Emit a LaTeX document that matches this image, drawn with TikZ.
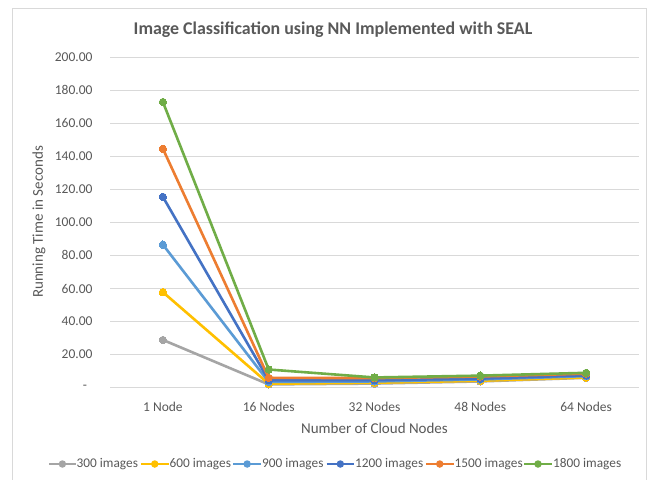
\documentclass[tikz,border=0pt]{standalone}
\usepackage{fontspec}
\setmainfont{Carlito}
\usetikzlibrary{calc}
\definecolor{cgray}{HTML}{A5A5A5}
\definecolor{cgold}{HTML}{FFC000}
\definecolor{clblue}{HTML}{5B9BD5}
\definecolor{cdblue}{HTML}{4472C4}
\definecolor{corange}{HTML}{ED7D31}
\definecolor{cgreen}{HTML}{70AD47}
\definecolor{grid}{HTML}{D9D9D9}
\definecolor{txt}{HTML}{595959}
\begin{document}
\begin{tikzpicture}[x=1pt,y=-1pt,
  ticklab/.style={text=txt,font=\fontsize{13.5}{15}\selectfont,inner sep=0pt},
  axtitle/.style={text=txt,font=\fontsize{15}{17}\selectfont,inner sep=0pt},
  legtext/.style={text=txt,font=\fontsize{13.3}{15}\selectfont,inner sep=0pt,anchor=west},
  gridline/.style={draw=grid,line width=1pt},
  ser/.style={line width=2.6pt,line join=round,line cap=round},
  legline/.style={line width=2.6pt},
  dot/.style={circle,inner sep=0pt,minimum size=7.5pt}]
\useasboundingbox (0,0) rectangle (652,479);
\fill[white] (0,0) rectangle (652,479);
\draw[draw=grid,line width=1pt] (12,8) -- (646,8) -- (646,490) (12,8) -- (12,490);
% title
\node[text=txt,font=\fontsize{17.9}{21}\bfseries,inner sep=0pt] (title) at (333,29.5) {Image Classification using NN Implemented with SEAL};
% y axis gridlines and labels
\foreach \v/\lab in {20/20.00,40/40.00,60/60.00,80/80.00,100/100.00,120/120.00,140/140.00,160/160.00,180/180.00,200/200.00}{
  \draw[gridline] (110,{387.7-1.6535*\v}) -- (639,{387.7-1.6535*\v});
  \node[ticklab,anchor=east] (yl\v) at (92.7,{387.7-1.6535*\v}) {\lab};
}
\draw[gridline] (110,387.7) -- (639,387.7);
\node[ticklab] (yl0) at (85,387.7) {-};
% category labels
\foreach \i/\lab in {0/1 Node,1/16 Nodes,2/32 Nodes,3/48 Nodes,4/64 Nodes}{
  \node[ticklab] (xl\i) at ({162.9+105.8*\i},406.5) {\lab};
}
\node[axtitle] (xtitle) at (374.5,428.3) {Number of Cloud Nodes};
\node[axtitle,rotate=90] (ytitle) at (39,222) {Running Time in Seconds};
% series
\begin{scope}[shift={(0pt,-387.7pt)},x=1pt,y=1.6535pt]
\foreach \col/\a/\b/\c/\d/\e in {
  cgray/28.9/2.0/2.5/3.8/6.0,
  cgold/57.8/2.4/3.0/4.2/6.2,
  clblue/86.5/3.5/3.8/5.0/7.0,
  cdblue/115.4/4.5/4.5/5.5/7.5,
  corange/144.5/6.0/5.8/6.8/8.5,
  cgreen/172.8/11.0/6.2/7.3/9.0}{
  \draw[ser,draw=\col] plot[mark=*,mark size=3.7pt,mark options={fill=\col,draw=\col,line width=0pt}] coordinates {(162.9,\a) (268.7,\b) (374.5,\c) (480.3,\d) (586.1,\e)};
}
\end{scope}
% legend
\foreach \n/\col/\xa/\xb/\lab in {
  a/cgray/49.3/75.5/300 images,
  b/cgold/141/168.5/600 images,
  c/clblue/233.3/261/900 images,
  d/cdblue/326.7/354/1200 images,
  e/corange/426/453.5/1500 images,
  f/cgreen/524/552/1800 images}{
  \coordinate (la\n) at (\xa,464);
  \coordinate (lb\n) at (\xb,464);
  \draw[legline,draw=\col] (la\n) -- (lb\n);
  \node[dot,fill=\col] (lm\n) at ($(la\n)!0.5!(lb\n)$) {};
  \node[legtext] (lt\n) at (\xb+1,464) {\lab};
}
\end{tikzpicture}
\end{document}
